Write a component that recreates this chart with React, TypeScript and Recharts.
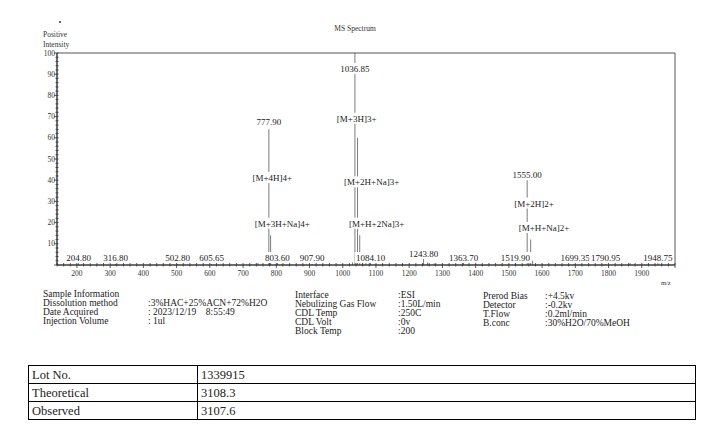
import React from 'react';
import {
  ComposedChart,
  Bar,
  Scatter,
  XAxis,
  YAxis,
  ReferenceArea,
} from 'recharts';

// peak list: m/z and relative intensity (%)
const peakMz = [
  204.8, 316.8, 502.8, 605.65, 745.0, 777.9, 783.4, 803.6, 907.9, 1030.0,
  1036.85, 1044.2, 1051.5, 1060.0, 1070.0, 1084.1, 1243.8, 1255.0, 1275.0,
  1363.7, 1519.9, 1555.0, 1566.0, 1572.0, 1699.35, 1790.95, 1865.0, 1948.75,
];
const peakIntensity = [
  0.8, 0.5, 0.5, 0.5, 1.0, 64, 14, 3, 0.5, 1.2, 100, 60, 14, 2.5, 1.8, 3,
  4, 1.2, 0.8, 1, 1, 40, 12, 2, 0.5, 0.5, 1, 1.5,
];

// text annotations: m/z where the text is centred, height (%) and text
const noteMz = [
  204.8, 316.8, 502.8, 605.65, 803.6, 907.9, 1084.1, 1243.8, 1363.7, 1519.9,
  1699.35, 1790.95, 1948.75, 777.9, 1036.85, 1555.0, 788, 818, 1042, 1087,
  1102, 1576, 1606,
];
const noteY = [
  3.3, 3.3, 3.3, 3.3, 3.3, 3.3, 3.3, 5.2, 3.3, 3.3, 3.3, 3.3, 3.3, 67.5, 92.5,
  42.5, 41, 19.5, 69, 39, 19.5, 29, 17.5,
];
const noteText = [
  '204.80', '316.80', '502.80', '605.65', '803.60', '907.90', '1084.10',
  '1243.80', '1363.70', '1519.90', '1699.35', '1790.95', '1948.75', '777.90',
  '1036.85', '1555.00', '[M+4H]4+', '[M+3H+Na]4+', '[M+3H]3+',
  '[M+2H+Na]3+', '[M+H+2Na]3+', '[M+2H]2+', '[M+H+Na]2+',
];

const xTicks: number[] = [];
for (let v = 140; v <= 2000; v += 20) xTicks.push(v);
const yTicks: number[] = [];
for (let v = 0; v <= 100; v += 2) yTicks.push(v);

const leftInfo = [
  ['Sample Information', ''],
  ['Dissolution method', ':3%HAC+25%ACN+72%H2O'],
  ['Date Acquired', ': 2023/12/19    8:55:49'],
  ['Injection Volume', ': 1ul'],
];
const midInfo = [
  ['Interface', ':ESI'],
  ['Nebulizing Gas Flow', ':1.50L/min'],
  ['CDL Temp', ':250C'],
  ['CDL Volt', ':0v'],
  ['Block Temp', ':200'],
];
const rightInfo = [
  ['Prerod Bias', ':+4.5kv'],
  ['Detector', ':-0.2kv'],
  ['T.Flow', ':0.2ml/min'],
  ['B.conc', ':30%H2O/70%MeOH'],
];
const tableRows = [
  ['Lot No.', '1339915'],
  ['Theoretical', '3108.3'],
  ['Observed', '3107.6'],
];

const peaks = peakMz.map((mz, i) => ({ mz, intensity: peakIntensity[i] }));
const notes = noteMz.map((mz, i) => ({ mz, y: noteY[i], text: noteText[i] }));

const SERIF = '"Liberation Serif", "Times New Roman", serif';

const XTick = (props: any) => {
  const { x, y, payload } = props;
  const v = payload.value;
  const major = v % 100 === 0;
  return (
    <g>
      <line x1={x} x2={x} y1={y - 2} y2={y + (major ? 3 : 1.5)} stroke="#333" strokeWidth={0.8} />
      {major && v >= 200 && v <= 1900 && (
        <text x={x} y={y + 11} textAnchor="middle" fontSize={7.5} fontFamily={SERIF} fill="#333">
          {v}
        </text>
      )}
    </g>
  );
};

const YTick = (props: any) => {
  const { x, y, payload } = props;
  const v = payload.value;
  const major = v % 10 === 0;
  return (
    <g>
      <line x1={x - (major ? 3 : 1.5)} x2={x + 1.5} y1={y} y2={y} stroke="#333" strokeWidth={0.8} />
      {major && v > 0 && (
        <text x={x - 2} y={y + 2.5} textAnchor="end" fontSize={7.5} fontFamily={SERIF} fill="#333">
          {v}
        </text>
      )}
    </g>
  );
};

const Note = (props: any) => {
  const { cx, cy, payload } = props;
  const w = payload.text.length * 4.6;
  return (
    <g>
      <rect x={cx - w / 2} y={cy - 6} width={w} height={11} fill="#fff" />
      <text x={cx} y={cy + 3} textAnchor="middle" fontSize={9} fontFamily={SERIF} fill="#222">
        {payload.text}
      </text>
    </g>
  );
};

const InfoBlock = ({ rows, left, valueLeft, top }: any) => (
  <>
    {rows.map((r: string[], i: number) => (
      <React.Fragment key={i}>
        <div style={{ position: 'absolute', left, top: top + i * 9, fontSize: 9.5, lineHeight: '9px', whiteSpace: 'pre' }}>
          {r[0]}
        </div>
        <div style={{ position: 'absolute', left: valueLeft, top: top + i * 9, fontSize: 9.5, lineHeight: '9px', whiteSpace: 'pre' }}>
          {r[1]}
        </div>
      </React.Fragment>
    ))}
  </>
);

export default function App() {
  return (
    <div
      style={{
        position: 'absolute',
        left: 0,
        top: 0,
        width: 720,
        height: 442,
        background: '#fff',
        fontFamily: SERIF,
        color: '#222',
        overflow: 'hidden',
      }}
    >
      <div style={{ position: 'absolute', left: 0, top: 0 }}>
        <ComposedChart
          width={720}
          height={290}
          data={peaks}
          margin={{ top: 53, right: 45, left: 37, bottom: 5 }}
        >
          <XAxis
            dataKey="mz"
            type="number"
            domain={[140, 2000]}
            ticks={xTicks}
            interval={0}
            allowDataOverflow
            tick={<XTick />}
            tickLine={false}
            tickSize={0}
            tickMargin={0}
            height={20}
            axisLine={{ stroke: '#333' }}
          />
          <YAxis
            type="number"
            domain={[0, 100]}
            ticks={yTicks}
            interval={0}
            allowDataOverflow
            tick={<YTick />}
            tickLine={false}
            tickSize={0}
            tickMargin={0}
            width={20}
            axisLine={{ stroke: '#333' }}
          />
          <ReferenceArea x1={140} x2={2000} y1={0} y2={100} fill="none" stroke="#555" strokeWidth={1} />
          <Bar dataKey="intensity" barSize={1} fill="#3a3a3a" isAnimationActive={false} />
          <Scatter data={notes} dataKey="y" shape={<Note />} isAnimationActive={false} />
          <text x={43} y={37} fontSize={7.5} fontFamily={SERIF} fill="#333">Positive</text>
          <text x={43} y={47} fontSize={7.5} fontFamily={SERIF} fill="#333">Intensity</text>
          <text x={355} y={31} textAnchor="middle" fontSize={7.5} fontFamily={SERIF} fill="#333">MS Spectrum</text>
          <text x={661} y={285} fontSize={6.5} fontFamily={SERIF} fill="#333">m/z</text>
          <circle cx={60} cy={22} r={1} fill="#335" />
        </ComposedChart>
      </div>
      <InfoBlock rows={leftInfo} left={43} valueLeft={148} top={290} />
      <InfoBlock rows={midInfo} left={295} valueLeft={398} top={291} />
      <InfoBlock rows={rightInfo} left={483} valueLeft={545} top={292} />
      <table
        style={{
          position: 'absolute',
          left: 28,
          top: 365,
          width: 668,
          borderCollapse: 'collapse',
          fontSize: 12.5,
          fontFamily: SERIF,
        }}
      >
        <tbody>
          {tableRows.map((r, i) => (
            <tr key={i} style={{ height: 18 }}>
              <td style={{ border: '1px solid #000', width: 162, padding: '0 3px', lineHeight: '16px' }}>{r[0]}</td>
              <td style={{ border: '1px solid #000', padding: '0 3px', lineHeight: '16px' }}>{r[1]}</td>
            </tr>
          ))}
        </tbody>
      </table>
    </div>
  );
}
